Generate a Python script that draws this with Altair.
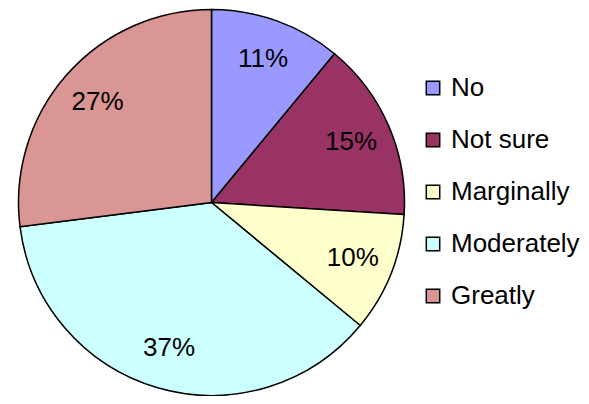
import altair as alt
import pandas as pd

categories = ["No", "Not sure", "Marginally", "Moderately", "Greatly"]
values = [11, 15, 10, 37, 27]
colors = ["#9999FF", "#993366", "#FFFFCC", "#CCFFFF", "#D99694"]

df = pd.DataFrame({
    "category": categories,
    "value": values,
    "order": list(range(len(categories))),
    "label": [f"{v}%" for v in values],
})

base = alt.Chart(df).encode(
    theta=alt.Theta("value:Q", stack=True),
    order=alt.Order("order:Q"),
)

arc = base.mark_arc(outerRadius=193, stroke="black", strokeWidth=1.5).encode(
    x=alt.value(203.5),
    y=alt.value(194.5),
    color=alt.Color(
        "category:N",
        scale=alt.Scale(domain=categories, range=colors),
        sort=categories,
        legend=alt.Legend(
            title=None,
            orient="none",
            legendX=412,
            legendY=67,
            padding=0,
            symbolType="square",
            symbolSize=180,
            symbolStrokeColor="black",
            symbolStrokeWidth=1.5,
            labelFont="Liberation Sans",
            labelFontSize=26,
            labelColor="black",
            labelOffset=5,
            rowPadding=26,
        ),
    ),
)

text = base.mark_text(radius=152, font="Liberation Sans", fontSize=26, color="black").encode(
    x=alt.value(203.5),
    y=alt.value(194.5),
    text="label:N",
)

chart = (arc + text).properties(
    width=573, height=388, padding=0,
    autosize=alt.AutoSizeParams(type="none"),
).configure_view(stroke=None)

chart.save("out.html", embed_options={"renderer": "svg", "actions": False})
